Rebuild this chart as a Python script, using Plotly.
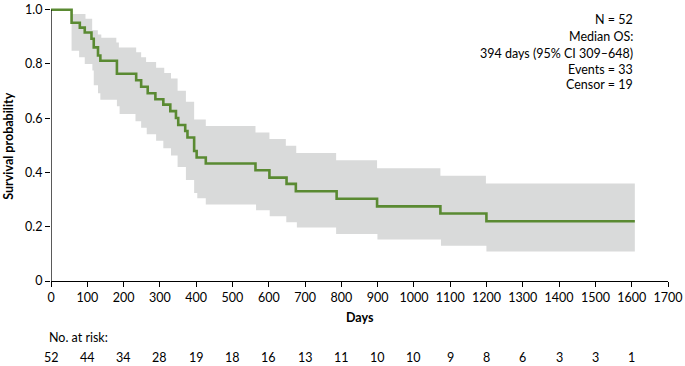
import plotly.graph_objects as go

# Kaplan-Meier estimate (step change days and survival after each change)
km_days = [0, 56.7, 79.4, 93, 111.5, 117.8, 129.5, 136, 181.6, 234.7, 248.4, 266.5, 287.6,
           309.5, 328.7, 344.3, 350.6, 369.8, 376, 394.4, 401.3, 426.5, 563.4, 601.8, 649,
           674.6, 787, 898.4, 1072.9, 1199.7, 1608.6]
km_surv = [1.0, 0.952, 0.934, 0.916, 0.893, 0.861, 0.831, 0.812, 0.764, 0.740, 0.716, 0.692,
           0.670, 0.650, 0.626, 0.601, 0.575, 0.553, 0.529, 0.479, 0.455, 0.433, 0.408, 0.381,
           0.358, 0.331, 0.303, 0.275, 0.249, 0.220, 0.220]

# 95% CI upper band
ci_up_days = [0, 56.7, 95, 113.4, 129, 138.6, 180, 187, 234.7, 248.4, 262, 289.6, 312, 330.6,
              348.8, 371.7, 394.4, 426.5, 563.4, 601.8, 647, 675.7, 785.6, 898.4, 1072.9,
              1198.3, 1608.6]
ci_up = [1.0, 0.984, 0.967, 0.924, 0.909, 0.897, 0.879, 0.861, 0.843, 0.825, 0.807, 0.786,
         0.767, 0.746, 0.701, 0.661, 0.595, 0.571, 0.547, 0.523, 0.499, 0.472, 0.445, 0.416,
         0.388, 0.359, 0.359]

# 95% CI lower band
ci_lo_days = [0, 56.7, 77.5, 93, 114, 117.8, 129.5, 136, 181.6, 189, 232.8, 248.4, 263.8,
              289.6, 309.5, 330.6, 348.8, 371.7, 394.4, 403, 426.5, 565, 602.6, 648.3, 677.4,
              785.6, 899.4, 1074.5, 1199.7, 1608.6]
ci_lo = [1.0, 0.849, 0.825, 0.800, 0.776, 0.722, 0.692, 0.668, 0.644, 0.616, 0.589, 0.565,
         0.541, 0.517, 0.489, 0.463, 0.420, 0.372, 0.324, 0.305, 0.282, 0.261, 0.239, 0.217,
         0.197, 0.173, 0.153, 0.130, 0.109, 0.109]

x_ticks = list(range(0, 1800, 100))
y_ticks = [0, 0.2, 0.4, 0.6, 0.8, 1.0]
y_tick_labels = ["0", "0.2", "0.4", "0.6", "0.8", "1.0"]

risk_days = list(range(0, 1700, 100))
risk_counts = [52, 44, 34, 28, 19, 18, 16, 13, 11, 10, 10, 9, 8, 6, 3, 3, 1]

stats_lines = ["N = 52", "Median OS:", "394 days (95% CI 309\u2013648)", "Events = 33", "Censor = 19"]
stats_y = [0.965, 0.902, 0.838, 0.779, 0.724]

X_MAX = 1700
FONT = "Lato, Liberation Sans, sans-serif"
FS = 12.5
GREEN = "#5a8a32"
BAND = "#d9dada"

fig = go.Figure()
fig.add_trace(go.Scatter(x=ci_up_days, y=ci_up, mode="lines", line=dict(shape="hv", width=0, color=BAND),
                         hoverinfo="skip", showlegend=False))
fig.add_trace(go.Scatter(x=ci_lo_days, y=ci_lo, mode="lines", line=dict(shape="hv", width=0, color=BAND),
                         fill="tonexty", fillcolor=BAND, hoverinfo="skip", showlegend=False))
fig.add_trace(go.Scatter(x=km_days, y=km_surv, mode="lines", line=dict(shape="hv", width=2.6, color=GREEN),
                         showlegend=False))

tf = dict(size=FS, family=FONT, color="black")
annotations = []
for t, yv in zip(stats_lines, stats_y):
    annotations.append(dict(x=1608, y=yv, xref="x", yref="y", text=t, showarrow=False,
                            xanchor="right", yanchor="middle", font=tf))
annotations.append(dict(x=0.5, y=-0.134, xref="paper", yref="paper", text="<b>Days</b>", showarrow=False,
                        xanchor="center", yanchor="middle", font=tf))
annotations.append(dict(x=-0.069, y=0.495, xref="paper", yref="paper", xanchor="center", yanchor="middle",
                        text="<b>Survival probability</b>", textangle=-90, showarrow=False, font=tf))
annotations.append(dict(x=-0.007, y=-0.205, xref="paper", yref="paper", text="No. at risk:", showarrow=False,
                        xanchor="left", yanchor="middle", font=tf))
for d, c in zip(risk_days, risk_counts):
    annotations.append(dict(x=d / X_MAX, y=-0.281, xref="paper", yref="paper", text=str(c), showarrow=False,
                            xanchor="center", yanchor="middle", font=tf))

fig.update_layout(
    width=685, height=366,
    margin=dict(l=51, r=13.3, t=2, b=85.3),
    paper_bgcolor="white", plot_bgcolor="white",
    font=dict(family=FONT, size=FS, color="black"),
    annotations=annotations,
    shapes=[dict(type="line", xref="x", yref="y", x0=0, x1=0, y0=0, y1=1,
                 line=dict(color="black", width=1.3))],
    xaxis=dict(range=[0, X_MAX], tickvals=x_ticks, ticks="outside", ticklen=5, tickwidth=1.2,
               tickcolor="black", showline=True, linecolor="black", linewidth=1.3,
               showgrid=False, zeroline=False, fixedrange=True, ticklabeloverflow="allow"),
    yaxis=dict(range=[0, 1.01], tickvals=y_ticks, ticktext=y_tick_labels, ticks="outside",
               ticklen=5, tickwidth=1.2, tickcolor="black", showline=False,
               showgrid=False, zeroline=False, fixedrange=True, ticklabeloverflow="allow"),
)

fig.write_html("out.html", config={"displayModeBar": False},
               post_script="document.body.style.margin='0';")
